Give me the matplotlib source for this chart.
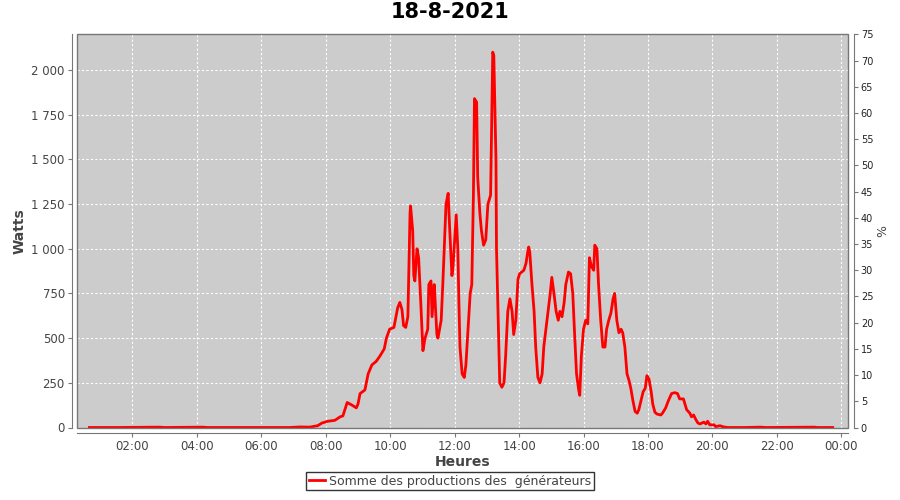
import pandas as pd
import matplotlib
matplotlib.use('Agg')
from matplotlib import pyplot as plt
import matplotlib.dates as mdates
from matplotlib.ticker import FuncFormatter
from matplotlib.patches import Rectangle

# ---------------------------- data ---------------------------------------
day = '2021-08-18'
title = '18-8-2021'
series_name = 'Somme des productions des  générateurs'

times = ['00:40', '01:30', '02:50', '03:00', '04:10', '04:20', '06:00', '06:53',
         '07:12', '07:30', '07:45', '07:53', '08:04', '08:17', '08:27', '08:32',
         '08:40', '08:49', '08:57', '09:00', '09:04', '09:13', '09:19', '09:26',
         '09:34', '09:41', '09:49', '09:53', '09:59', '10:07', '10:14', '10:18',
         '10:22', '10:25', '10:29', '10:33', '10:37', '10:38', '10:42', '10:44',
         '10:46', '10:50', '10:53', '10:57', '11:01', '11:05', '11:10', '11:12',
         '11:16', '11:18', '11:22', '11:23', '11:27', '11:29', '11:35', '11:38',
         '11:44', '11:48', '11:51', '11:55', '11:57', '12:01', '12:03', '12:06',
         '12:08', '12:10', '12:14', '12:18', '12:21', '12:25', '12:29', '12:32',
         '12:35', '12:37', '12:41', '12:43', '12:47', '12:50', '12:54', '12:58',
         '13:02', '13:05', '13:07', '13:09', '13:11', '13:13', '13:17', '13:18',
         '13:22', '13:24', '13:28', '13:32', '13:35', '13:39', '13:43', '13:47',
         '13:50', '13:54', '13:58', '14:01', '14:05', '14:09', '14:13', '14:16',
         '14:18', '14:20', '14:24', '14:28', '14:31', '14:35', '14:39', '14:43',
         '14:46', '14:50', '14:54', '14:58', '15:01', '15:05', '15:09', '15:13',
         '15:16', '15:20', '15:24', '15:27', '15:32', '15:36', '15:40', '15:43',
         '15:47', '15:51', '15:53', '15:56', '16:00', '16:04', '16:08', '16:11',
         '16:15', '16:19', '16:21', '16:25', '16:28', '16:32', '16:36', '16:40',
         '16:43', '16:47', '16:51', '16:55', '16:58', '17:02', '17:06', '17:10',
         '17:13', '17:17', '17:21', '17:25', '17:28', '17:32', '17:36', '17:40',
         '17:43', '17:47', '17:51', '17:55', '17:58', '18:02', '18:06', '18:09',
         '18:13', '18:17', '18:24', '18:27', '18:33', '18:38', '18:44', '18:50',
         '18:55', '18:59', '19:06', '19:12', '19:18', '19:21', '19:25', '19:29',
         '19:33', '19:37', '19:44', '19:48', '19:51', '19:55', '20:03', '20:06',
         '20:14', '20:21', '20:29', '21:00', '21:30', '21:40', '23:10', '23:15',
         '23:44']

watts = [0, 0, 2, 0, 2, 0, 0, 0,
         3, 2, 10, 25, 35, 40, 60, 65,
         140, 125, 110, 130, 190, 210, 300, 350,
         370, 400, 440, 500, 550, 560, 670, 700,
         660, 570, 560, 620, 1200, 1240, 1100, 850,
         820, 1000, 950, 700, 430, 500, 550, 800,
         820, 620, 800, 750, 520, 500, 600, 800,
         1250, 1310, 1100, 850, 900, 1100, 1190, 1000,
         700, 450, 300, 280, 350, 550, 750, 800,
         1300, 1840, 1820, 1400, 1200, 1100, 1020, 1050,
         1250, 1280, 1300, 1700, 2100, 2080, 1500, 1000,
         500, 250, 225, 250, 400, 650, 720, 650,
         520, 600, 830, 860, 870, 880, 920, 980,
         1010, 980, 800, 650, 450, 280, 250, 300,
         450, 550, 650, 750, 840, 750, 650, 600,
         650, 620, 700, 800, 870, 860, 750, 550,
         300, 210, 180, 400, 550, 600, 580, 950,
         900, 880, 1020, 1000, 800, 600, 450, 450,
         550, 600, 640, 720, 750, 600, 530, 550,
         530, 450, 300, 260, 220, 150, 90, 80,
         100, 150, 200, 220, 290, 270, 200, 130,
         85, 75, 70, 80, 110, 150, 190, 195,
         190, 160, 160, 100, 80, 60, 70, 45,
         25, 20, 30, 20, 35, 15, 15, 5,
         10, 3, 0, 0, 2, 0, 2, 0,
         0]

left_ticks = [0, 250, 500, 750, 1000, 1250, 1500, 1750, 2000]
right_ticks = list(range(0, 80, 5))

# ---------------------------- plot ---------------------------------------
df = pd.DataFrame({'time': pd.to_datetime([day + ' ' + t for t in times]),
                   'watts': watts})

grey_txt = '#444444'
plt.rcParams['font.family'] = 'DejaVu Sans'

fig = plt.figure(figsize=(9, 5), dpi=100)
ax = fig.add_axes([77.3 / 900, 1 - 427.5 / 500, (848.3 - 77.3) / 900, (427.5 - 34.3) / 500])
ax.set_facecolor('#cccccc')

ax.plot(df['time'], df['watts'], color='#ff0000', lw=2, zorder=3)

x0 = pd.Timestamp(day + ' 00:17:30')
x1 = pd.Timestamp(day + ' 00:00') + pd.Timedelta(hours=24, minutes=13)
ax.set_xlim(x0, x1)
ax.set_ylim(0, 2200)

ax.xaxis.set_major_locator(mdates.HourLocator(byhour=range(0, 24, 2)))
ax.xaxis.set_major_formatter(mdates.DateFormatter('%H:%M'))
ax.set_yticks(left_ticks)
ax.yaxis.set_major_formatter(FuncFormatter(lambda v, p: f'{int(v):,}'.replace(',', ' ')))

ax.grid(True, color='white', ls=(0, (2, 2)), lw=0.8)
ax.set_axisbelow(True)

for s in ['top', 'right']:
    ax.spines[s].set_visible(False)
for s in ['left', 'bottom']:
    ax.spines[s].set_position(('outward', 4))
    ax.spines[s].set_color('#777777')
ax.add_patch(Rectangle((0, 0), 1, 1, transform=ax.transAxes, fill=False,
                       ec='#777777', lw=1, clip_on=False, zorder=4))

ax.tick_params(axis='both', colors='#777777', labelcolor=grey_txt, labelsize=8.5,
               length=3, pad=2)

ax.set_xlabel('Heures', fontsize=10, fontweight='bold', color=grey_txt)
ax.set_ylabel('Watts', fontsize=10, fontweight='bold', color=grey_txt)
ax.xaxis.set_label_coords(0.5, -0.070)
ax.yaxis.set_label_coords(-0.066, 0.5)

# right axis in %
ax2 = ax.twinx()
ax2.set_ylim(0, 75)
ax2.set_yticks(right_ticks)
for s in ['top', 'left', 'bottom']:
    ax2.spines[s].set_visible(False)
ax2.spines['right'].set_position(('outward', 4))
ax2.spines['right'].set_color('#777777')
ax2.tick_params(axis='y', colors='#777777', labelcolor='#222222', labelsize=7,
                length=3, pad=2)
ax2.set_ylabel('%', fontsize=9, color=grey_txt)
ax2.yaxis.set_label_coords(1.036, 0.5)

fig.suptitle(title, fontsize=15, fontweight='bold', y=0.975, va='center')

leg = fig.legend([ax.lines[0]], [series_name], loc='center', bbox_to_anchor=(0.5, 0.038),
                 fontsize=9, frameon=True, fancybox=False, handlelength=1.3,
                 handletextpad=0.3, borderpad=0.2, borderaxespad=0)
leg.get_frame().set_edgecolor('black')
leg.get_frame().set_linewidth(1)
for t in leg.get_texts():
    t.set_color(grey_txt)

fig.savefig('out.png', dpi=100)
